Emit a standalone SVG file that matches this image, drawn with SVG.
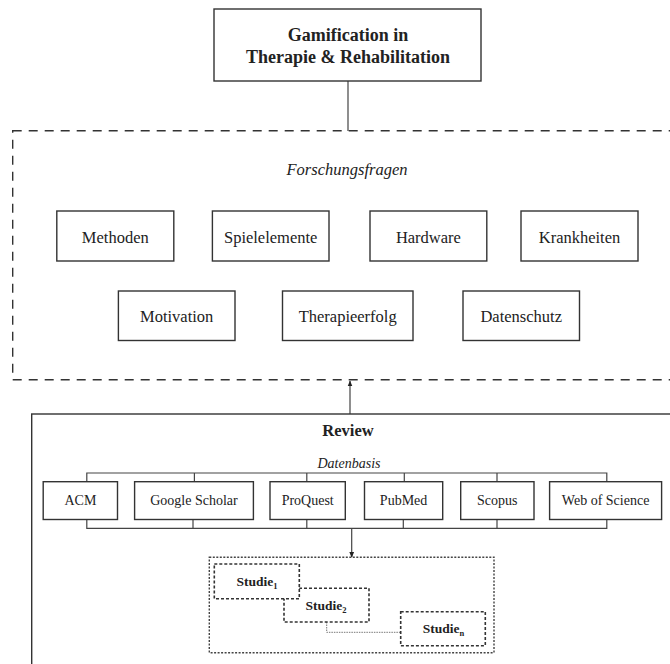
<svg xmlns="http://www.w3.org/2000/svg" width="670" height="664" viewBox="0 0 670 664" font-family="'Liberation Serif', 'Times New Roman', Times, serif">
<defs>
<style>
.box{fill:#fff;stroke:#333;stroke-width:1.4}
.ln{fill:none;stroke:#444;stroke-width:1.2}
text{font-family:'Liberation Serif','Times New Roman',Times,serif;fill:#222;text-anchor:middle}
.b{font-weight:bold}
.i{font-style:italic}
.q{font-size:16.5px}
.d{font-size:14px}
.s{font-size:13.5px;font-weight:bold}
.dash{fill:none;stroke:#333;stroke-width:1.4;stroke-dasharray:9 7}
.dot{fill:#fff;stroke:#444;stroke-width:1.4;stroke-dasharray:2 1.5}
.sd{fill:#fff;stroke:#333;stroke-width:1.6;stroke-dasharray:3 2}
</style>
<marker id="ah" viewBox="0 0 10 10" refX="9" refY="5" markerWidth="6" markerHeight="6" orient="auto-start-reverse" markerUnits="userSpaceOnUse">
<path d="M0,1 L10,5 L0,9 z" fill="#222"/>
</marker>
</defs>
<rect width="670" height="664" fill="#fff"/>

<g id="connectors">
<line class="ln" x1="348" y1="81" x2="348" y2="131"/>
<line class="ln" x1="350" y1="414" x2="350" y2="381" marker-end="url(#ah)"/>
<polyline class="ln" points="86.8,481.7 86.8,473 606.8,473 606.8,481.7"/>
<line class="ln" x1="194.4" y1="473" x2="194.4" y2="481.7"/>
<line class="ln" x1="306.8" y1="473" x2="306.8" y2="481.7"/>
<line class="ln" x1="404.3" y1="473" x2="404.3" y2="481.7"/>
<line class="ln" x1="497" y1="473" x2="497" y2="481.7"/>
<polyline class="ln" points="86.8,519.5 86.8,528.3 606.8,528.3 606.8,519.5"/>
<line class="ln" x1="193" y1="519.5" x2="193" y2="528.3"/>
<line class="ln" x1="306.8" y1="519.5" x2="306.8" y2="528.3"/>
<line class="ln" x1="403.3" y1="519.5" x2="403.3" y2="528.3"/>
<line class="ln" x1="497" y1="519.5" x2="497" y2="528.3"/>
<line class="ln" x1="351.7" y1="528.3" x2="351.7" y2="557.3" marker-end="url(#ah)"/>
</g>

<g id="title">
<rect class="box" x="214" y="9" width="267" height="72"/>
<text class="b" x="348" y="41" font-size="18">Gamification in</text>
<text class="b" x="348" y="63.3" font-size="18">Therapie &amp; Rehabilitation</text>
</g>

<g id="forschungsfragen">
<rect class="dash" x="12.7" y="130.7" width="680" height="249"/>
<text class="i" x="347" y="175" font-size="16.5">Forschungsfragen</text>
</g>

<g id="methoden"><rect class="box" x="56.8" y="211" width="117" height="50"/><text class="q" x="115.3" y="242.5">Methoden</text></g>
<g id="spielelemente"><rect class="box" x="212.4" y="211" width="116.6" height="50"/><text class="q" x="270.7" y="242.5">Spielelemente</text></g>
<g id="hardware"><rect class="box" x="370" y="211" width="116.8" height="50"/><text class="q" x="428.4" y="242.5">Hardware</text></g>
<g id="krankheiten"><rect class="box" x="521" y="211" width="117" height="50"/><text class="q" x="579.5" y="242.5">Krankheiten</text></g>
<g id="motivation"><rect class="box" x="118.4" y="291" width="116.6" height="49.5"/><text class="q" x="176.7" y="322.3">Motivation</text></g>
<g id="therapieerfolg"><rect class="box" x="282.5" y="291" width="130.5" height="49.5"/><text class="q" x="347.7" y="322.3">Therapieerfolg</text></g>
<g id="datenschutz"><rect class="box" x="463" y="291" width="116.5" height="49.5"/><text class="q" x="521.2" y="322.3">Datenschutz</text></g>

<g id="review">
<rect x="31.7" y="414" width="660" height="270" fill="none" stroke="#333" stroke-width="1.4"/>
<text class="b" x="348" y="436" font-size="16.5">Review</text>
<text class="i" x="349" y="468" font-size="14">Datenbasis</text>
</g>

<g id="acm"><rect class="box" x="43.2" y="481.7" width="74.3" height="37.8"/><text class="d" x="80.4" y="505.2">ACM</text></g>
<g id="google-scholar"><rect class="box" x="134.6" y="481.7" width="118.8" height="37.8"/><text class="d" x="194" y="505.2">Google Scholar</text></g>
<g id="proquest"><rect class="box" x="270" y="481.7" width="75.3" height="37.8"/><text class="d" x="307.7" y="505.2">ProQuest</text></g>
<g id="pubmed"><rect class="box" x="364.5" y="481.7" width="78.2" height="37.8"/><text class="d" x="403.6" y="505.2">PubMed</text></g>
<g id="scopus"><rect class="box" x="460.7" y="481.7" width="73.3" height="37.8"/><text class="d" x="497.3" y="505.2">Scopus</text></g>
<g id="web-of-science"><rect class="box" x="549.6" y="481.7" width="112" height="37.8"/><text class="d" x="605.6" y="505.2">Web of Science</text></g>

<g id="studien-container">
<rect class="dot" x="209.3" y="557.3" width="284.7" height="95.4"/>
</g>

<g id="studie-connector">
<polyline fill="none" stroke="#777" stroke-width="1" stroke-dasharray="1.5 1" points="326.7,622 326.7,632.3 400.7,632.3"/>
</g>

<g id="studie2"><rect class="sd" x="284" y="588.3" width="85" height="33.7"/><text class="s" x="326" y="610">Studie<tspan font-size="8.5" dy="2.5">2</tspan></text></g>
<g id="studie1"><rect class="sd" x="214.3" y="564" width="85" height="34.7"/><text class="s" x="257" y="586">Studie<tspan font-size="8.5" dy="2.5">1</tspan></text></g>
<g id="studien"><rect class="sd" x="400.7" y="611.7" width="84.6" height="34"/><text class="s" x="443.5" y="633.3">Studie<tspan font-size="8.5" dy="2.5">n</tspan></text></g>
</svg>
